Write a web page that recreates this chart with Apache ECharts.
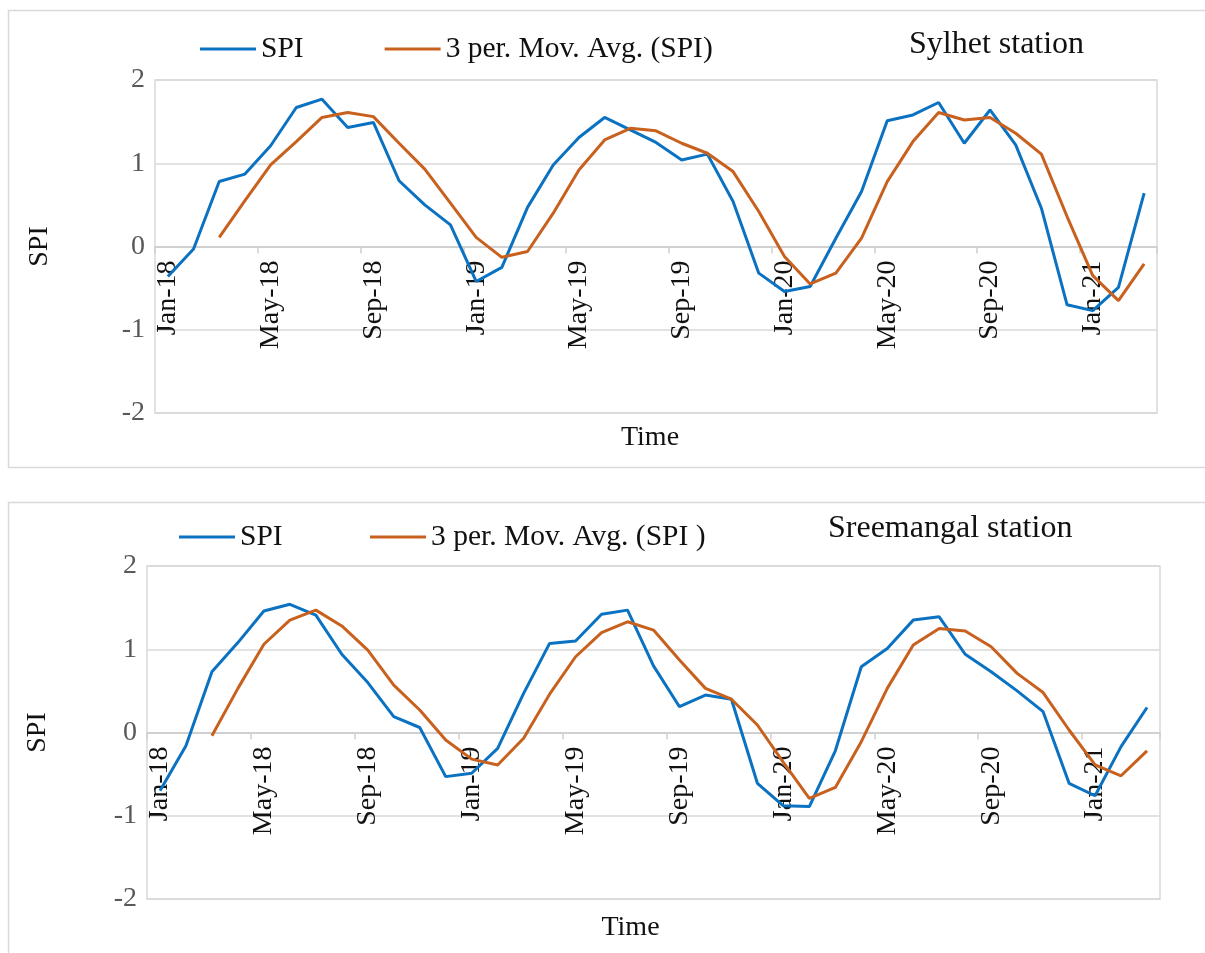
<!DOCTYPE html>
<html>
<head>
<meta charset="utf-8">
<title>SPI – Sylhet and Sreemangal stations</title>
<script src="https://cdn.jsdelivr.net/npm/echarts@6/dist/echarts.min.js"></script>
<style>
  html, body { margin: 0; padding: 0; background: #ffffff; }
  #chart { width: 1205px; height: 953px; }
</style>
</head>
<body>
<div id="chart"></div>
<script>
// Monthly categories, Jan 2018 – Mar 2021
const categories = ['Jan-18','Feb-18','Mar-18','Apr-18','May-18','Jun-18','Jul-18','Aug-18','Sep-18','Oct-18','Nov-18','Dec-18',
  'Jan-19','Feb-19','Mar-19','Apr-19','May-19','Jun-19','Jul-19','Aug-19','Sep-19','Oct-19','Nov-19','Dec-19',
  'Jan-20','Feb-20','Mar-20','Apr-20','May-20','Jun-20','Jul-20','Aug-20','Sep-20','Oct-20','Nov-20','Dec-20',
  'Jan-21','Feb-21','Mar-21'];

// Sylhet station
const sylhetSPI = [-0.36, -0.03, 0.78, 0.87, 1.21, 1.67, 1.77, 1.43, 1.49, 0.79, 0.50, 0.26,
  -0.42, -0.25, 0.47, 0.98, 1.31, 1.55, 1.40, 1.25, 1.04, 1.11, 0.54, -0.32,
  -0.54, -0.48, 0.10, 0.66, 1.51, 1.58, 1.73, 1.24, 1.64, 1.22, 0.46, -0.70,
  -0.77, -0.49, 0.64];
const sylhetMovAvg = [null, null, 0.11, 0.55, 0.98, 1.26, 1.55, 1.61, 1.56, 1.24, 0.93, 0.52,
  0.11, -0.13, -0.06, 0.40, 0.92, 1.28, 1.42, 1.39, 1.24, 1.12, 0.90, 0.42,
  -0.12, -0.45, -0.32, 0.10, 0.78, 1.26, 1.61, 1.52, 1.55, 1.36, 1.11, 0.36,
  -0.35, -0.65, -0.21];

// Sreemangal station
const sreemangalSPI = [-0.70, -0.16, 0.73, 1.08, 1.46, 1.54, 1.41, 0.94, 0.60, 0.19, 0.06, -0.53,
  -0.49, -0.19, 0.47, 1.07, 1.10, 1.42, 1.47, 0.80, 0.31, 0.45, 0.40, -0.61,
  -0.88, -0.89, -0.22, 0.79, 1.01, 1.35, 1.39, 0.94, 0.73, 0.50, 0.25, -0.61,
  -0.76, -0.17, 0.30];
const sreemangalMovAvg = [null, null, -0.04, 0.53, 1.06, 1.35, 1.47, 1.28, 0.99, 0.57, 0.27, -0.09,
  -0.32, -0.39, -0.07, 0.46, 0.91, 1.20, 1.33, 1.23, 0.87, 0.53, 0.40, 0.09,
  -0.36, -0.79, -0.66, -0.11, 0.53, 1.05, 1.25, 1.22, 1.03, 0.71, 0.48, 0.03,
  -0.39, -0.52, -0.22];

// Value axis range
const yMin = -2, yMax = 2, yStep = 1;

const FONT = "'Liberation Serif', 'Times New Roman', serif";
const BLUE = '#0B72C2';
const ORANGE = '#C8601E';
const GRID_GREY = '#D9D9D9';
const PLOT_H = 333;

const chart = echarts.init(document.getElementById('chart'), null, { renderer: 'canvas' });

// The category axis sits on the zero line of the value axis (the middle of -2..2),
// so the whole axis (line, ticks, labels, name) is lifted by half the plot height.
function xAxisFor(gridIndex, namePadRight, nameGap) {
  return {
    type: 'category',
    gridIndex: gridIndex,
    data: categories,
    boundaryGap: true,
    offset: -PLOT_H / 2,
    name: 'Time',
    nameLocation: 'middle',
    nameGap: nameGap,
    nameTextStyle: { fontFamily: FONT, fontSize: 28, color: '#111', padding: [0, namePadRight, 0, 0] },
    axisLine: { onZero: false, lineStyle: { color: '#D0D0D0', width: 2 } },
    axisTick: { show: true, interval: 3, length: 7, lineStyle: { color: '#D0D0D0', width: 1.5 } },
    axisLabel: {
      interval: 3, rotate: 90, margin: 14,
      fontFamily: FONT, fontSize: 28, color: '#111'
    },
    splitLine: { show: false }
  };
}

function yAxisFor(gridIndex, nameGap) {
  return {
    type: 'value',
    gridIndex: gridIndex,
    min: yMin, max: yMax, interval: yStep,
    name: 'SPI',
    nameLocation: 'middle',
    nameRotate: 90,
    nameGap: nameGap,
    nameTextStyle: { fontFamily: FONT, fontSize: 28, color: '#111' },
    axisLine: { show: false },
    axisTick: { show: false },
    axisLabel: { fontFamily: FONT, fontSize: 28, color: '#595959', margin: 10 },
    splitLine: { show: true, lineStyle: { color: GRID_GREY, width: 1.5 } }
  };
}

function legendFor(left, top, gap, names) {
  return {
    left: left, top: top,
    orient: 'horizontal',
    icon: 'rect',
    itemWidth: 56, itemHeight: 3,
    itemGap: gap,
    data: names,
    textStyle: { fontFamily: FONT, fontSize: 29.5, color: '#111' }
  };
}

const lineStyle = (color) => ({ color: color, width: 3 });

const option = {
  backgroundColor: '#ffffff',
  animation: false,
  graphic: [
    { type: 'rect', shape: { x: 8.5, y: 10.5, width: 1210, height: 457 },
      style: { fill: null, stroke: GRID_GREY, lineWidth: 1.5 }, silent: true },
    { type: 'rect', shape: { x: 8.5, y: 502.5, width: 1210, height: 470 },
      style: { fill: null, stroke: GRID_GREY, lineWidth: 1.5 }, silent: true }
  ],
  title: [
    { text: 'Sylhet station', left: 904, top: 24,
      textStyle: { fontFamily: FONT, fontSize: 32, fontWeight: 'normal', color: '#111' } },
    { text: 'Sreemangal station', left: 823, top: 508,
      textStyle: { fontFamily: FONT, fontSize: 32, fontWeight: 'normal', color: '#111' } }
  ],
  legend: [
    legendFor(195, 29, 81, ['SPI', '3 per. Mov. Avg. (SPI)']),
    legendFor(174, 517, 80, ['SPI ', '3 per. Mov. Avg. (SPI )'])
  ],
  grid: [
    { left: 155, top: 80, width: 1002, height: PLOT_H, show: true, borderColor: GRID_GREY, borderWidth: 1.5,
      containLabel: false, outerBoundsMode: 'none' },
    { left: 147, top: 566, width: 1013, height: PLOT_H, show: true, borderColor: GRID_GREY, borderWidth: 1.5,
      containLabel: false, outerBoundsMode: 'none' }
  ],
  xAxis: [ xAxisFor(0, 12, 177), xAxisFor(1, 46, 181) ],
  yAxis: [ yAxisFor(0, 101), yAxisFor(1, 95) ],
  series: [
    { name: 'SPI', type: 'line', xAxisIndex: 0, yAxisIndex: 0, data: sylhetSPI,
      showSymbol: false, lineStyle: lineStyle(BLUE), itemStyle: { color: BLUE } },
    { name: '3 per. Mov. Avg. (SPI)', type: 'line', xAxisIndex: 0, yAxisIndex: 0, data: sylhetMovAvg,
      showSymbol: false, lineStyle: lineStyle(ORANGE), itemStyle: { color: ORANGE } },
    { name: 'SPI ', type: 'line', xAxisIndex: 1, yAxisIndex: 1, data: sreemangalSPI,
      showSymbol: false, lineStyle: lineStyle(BLUE), itemStyle: { color: BLUE } },
    { name: '3 per. Mov. Avg. (SPI )', type: 'line', xAxisIndex: 1, yAxisIndex: 1, data: sreemangalMovAvg,
      showSymbol: false, lineStyle: lineStyle(ORANGE), itemStyle: { color: ORANGE } }
  ]
};

chart.setOption(option);
</script>
</body>
</html>
